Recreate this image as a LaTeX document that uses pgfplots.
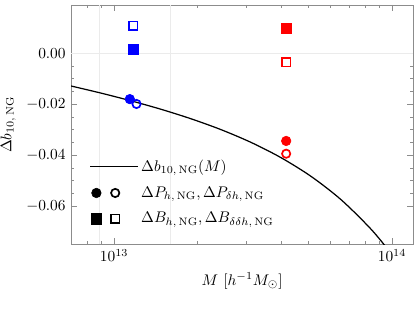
\documentclass[border=0pt]{standalone}
\usepackage{pgfplots}
\pgfplotsset{compat=1.18}
\definecolor{mblue}{RGB}{0,0,255}
\definecolor{mred}{RGB}{255,0,0}
\begin{document}
\begin{tikzpicture}
\useasboundingbox (-46.15pt,-42.9pt) rectangle (226.2pt,158.6pt);
\begin{axis}[
  scale only axis, width=222.3pt, height=155.35pt,
  at={(0,0)}, anchor=south west,
  xmode=log, xmin=7e12, xmax=1.19e14,
  ymin=-0.0748, ymax=0.0189,
  ytick={-0.06,-0.04,-0.02,0},
  minor y tick num=3,
  yticklabel style={/pgf/number format/fixed,/pgf/number format/fixed zerofill,/pgf/number format/precision=2},
  scaled y ticks=false,
  axis line style={black!45},
  every tick/.style={black!45},
  major tick length=4pt, minor tick length=2.2pt,
  extra x ticks={8.84e12,1.6e13}, extra x tick labels={},
  extra x tick style={grid=major, major grid style={black!8, line width=0.7pt}, major tick length=0pt},
  extra y ticks={0}, extra y tick labels={},
  extra y tick style={grid=major, major grid style={black!8, line width=0.7pt}, major tick length=0pt},
  xlabel={$M\ [h^{-1}M_\odot]$},
  ylabel={$\Delta b_{10,\,\mathrm{NG}}$},
  legend style={draw=none, fill=none, at={(0.04,0.38)}, anchor=north west, row sep=4.5pt, font=\normalsize},
  legend cell align=left,
]
\addplot[black, line width=0.8pt, smooth,
  legend image code/.code={\draw[black, line width=0.8pt] (0cm,0cm) -- (1.08cm,0cm);}] coordinates {
 (6.98e12,-0.01282) (8.955e12,-0.01562) (1.1487e13,-0.01865) (1.4737e13,-0.02197)
 (1.8906e13,-0.02570) (2.4254e13,-0.02997) (3.1115e13,-0.03498) (3.9917e13,-0.04099)
 (5.1211e13,-0.04835) (6.5700e13,-0.05752) (8.4276e13,-0.06914) (9.9504e13,-0.07867)};
\addlegendentry{$\Delta b_{10,\,\mathrm{NG}}(M)$}
\addlegendimage{legend image code/.code={
  \path[draw=none,fill=none] (0cm,0cm) -- (1.08cm,0cm);
  \fill[black] (0.14cm,0cm) circle (3.1pt);
  \draw[black, line width=1.1pt] (0.57cm,0cm) circle (2.7pt);}}
\addlegendentry{$\Delta P_{h,\,\mathrm{NG}}, \Delta P_{\delta h,\,\mathrm{NG}}$}
\addlegendimage{legend image code/.code={
  \path[draw=none,fill=none] (0cm,0cm) -- (1.08cm,0cm);
  \fill[black] (0.14cm-3.3pt,-3.3pt) rectangle (0.14cm+3.3pt,3.3pt);
  \draw[black, line width=1.1pt] (0.57cm-2.8pt,-2.8pt) rectangle (0.57cm+2.8pt,2.8pt);}}
\addlegendentry{$\Delta B_{h,\,\mathrm{NG}}, \Delta B_{\delta\delta h,\,\mathrm{NG}}$}
% blue points
\addplot[only marks, mark=*, mark size=3.1pt, mblue, forget plot] coordinates {(1.139e13,-0.0180)};
\addplot[only marks, mark=o, mark size=2.7pt, mblue, line width=1.1pt, forget plot] coordinates {(1.204e13,-0.0199)};
\addplot[only marks, mark=square*, mark size=3.3pt, mblue, forget plot] coordinates {(1.17e13,0.0016)};
\addplot[only marks, mark=square, mark size=2.8pt, mblue, line width=1.1pt, forget plot] coordinates {(1.17e13,0.0108)};
% red points
\addplot[only marks, mark=*, mark size=3.1pt, mred, forget plot] coordinates {(4.16e13,-0.0344)};
\addplot[only marks, mark=o, mark size=2.7pt, mred, line width=1.1pt, forget plot] coordinates {(4.16e13,-0.0394)};
\addplot[only marks, mark=square*, mark size=3.3pt, mred, forget plot] coordinates {(4.16e13,0.0098)};
\addplot[only marks, mark=square, mark size=2.8pt, mred, line width=1.1pt, forget plot] coordinates {(4.16e13,-0.0035)};
\end{axis}
\end{tikzpicture}
\end{document}
